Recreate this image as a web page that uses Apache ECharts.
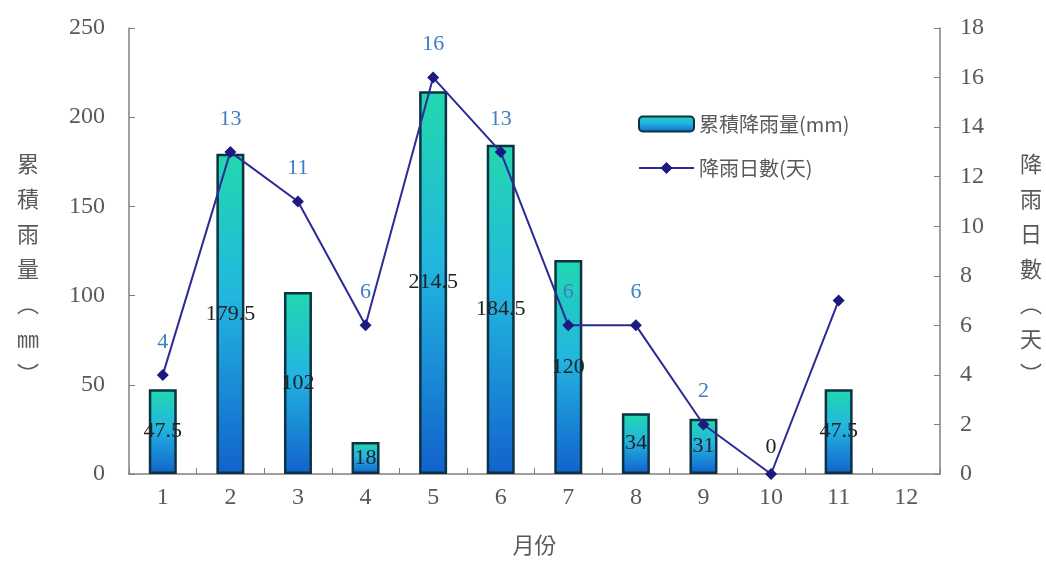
<!DOCTYPE html>
<html><head><meta charset="utf-8">
<script src="https://cdn.jsdelivr.net/npm/echarts@6/dist/echarts.min.js"></script>
<style>html,body{margin:0;padding:0;background:#fff}#c{width:1046px;height:561px}</style>
</head><body><div id="c"></div>
<script>
const months = ['1','2','3','4','5','6','7','8','9','10','11','12'];
const rainfall = [47.5, 179.5, 102, 18, 214.5, 184.5, 120, 34, 31, 0, 47.5, null];
const rainDays = [4, 13, 11, 6, 16, 13, 6, 6, 2, 0, 7, null];
const leftTicks = [0, 50, 100, 150, 200, 250];
const rightTicks = [0, 2, 4, 6, 8, 10, 12, 14, 16, 18];

const serif = '"Liberation Serif", "Noto Sans CJK TC", serif';
const cjk = '"Noto Sans CJK TC", "Liberation Serif", sans-serif';
const gray = '#595959';

const chart = echarts.init(document.getElementById('c'));
const barGrad = new echarts.graphic.LinearGradient(0, 0, 0, 1, [
  {offset: 0, color: '#22d8ae'},
  {offset: 0.45, color: '#22b6e0'},
  {offset: 1, color: '#1262cc'}
]);
chart.setOption({
  animation: false,
  backgroundColor: '#fff',
  grid: {left: 129, right: 106, top: 28, bottom: 87, outerBoundsMode: 'none', containLabel: false},
  legend: {
    orient: 'vertical', left: 633, top: 109, itemGap: 24,
    itemWidth: 55, itemHeight: 15,
    textStyle: {fontFamily: cjk, fontSize: 20, color: gray},
    data: [{name: '累積降雨量(mm)'}, {name: '降雨日數(天)'}]
  },
  xAxis: {
    type: 'category', data: months,
    name: '月份', nameLocation: 'middle', nameGap: 60,
    nameTextStyle: {fontFamily: cjk, fontSize: 22, color: gray},
    axisLine: {lineStyle: {color: '#808080', width: 1.5}},
    axisTick: {show: true, inside: true, length: 6, lineStyle: {color: '#808080'}},
    axisLabel: {fontFamily: serif, fontSize: 24, color: gray, margin: 12}
  },
  yAxis: [{
    type: 'value', min: 0, max: 250, interval: 50,
    name: '\n累\n積\n雨\n量\n︵\n㎜\n︶', nameLocation: 'middle', nameRotate: 0, nameGap: 90,
    nameTextStyle: {fontFamily: cjk, fontSize: 22, color: gray, lineHeight: 35},
    splitLine: {show: false},
    axisLine: {show: true, lineStyle: {color: '#808080', width: 1.5}},
    axisTick: {show: true, inside: true, length: 6, lineStyle: {color: '#808080'}},
    axisLabel: {fontFamily: serif, fontSize: 24, color: gray, margin: 24,
      formatter: v => leftTicks.includes(v) ? String(v) : ''}
  }, {
    type: 'value', min: 0, max: 18, interval: 2,
    name: '\n降\n雨\n日\n數\n︵\n天\n︶', nameLocation: 'middle', nameRotate: 0, nameGap: 80,
    nameTextStyle: {fontFamily: cjk, fontSize: 22, color: gray, lineHeight: 35},
    splitLine: {show: false},
    axisLine: {show: true, lineStyle: {color: '#808080', width: 1.5}},
    axisTick: {show: true, inside: true, length: 6, lineStyle: {color: '#808080'}},
    axisLabel: {fontFamily: serif, fontSize: 24, color: gray, margin: 20,
      formatter: v => rightTicks.includes(v) ? String(v) : ''}
  }],
  series: [{
    name: '累積降雨量(mm)', type: 'bar', yAxisIndex: 0,
    barWidth: 28,
    data: rainfall.map(v => v === 0 ? {value: v, label: {show: false}, itemStyle: {borderWidth: 0}} : v),
    itemStyle: {color: barGrad, borderColor: '#0c3244', borderWidth: 2.5},
    label: {show: true, position: 'inside', fontFamily: serif, fontSize: 22, color: '#222'}
  }, {
    name: '降雨日數(天)', type: 'line', yAxisIndex: 1,
    data: rainDays.map((v, i) => {
      if (i === 10) return {value: v, label: {show: false}};
      if (v === 0) return {value: v, label: {color: '#222', distance: 10}};
      return v;
    }),
    symbol: 'diamond', symbolSize: 12,
    lineStyle: {color: '#2b2a96', width: 2},
    itemStyle: {color: '#1c1a80'},
    label: {show: true, position: 'top', distance: 16, fontFamily: serif, fontSize: 22, color: '#3d7fbf'}
  }]
});
</script></body></html>
